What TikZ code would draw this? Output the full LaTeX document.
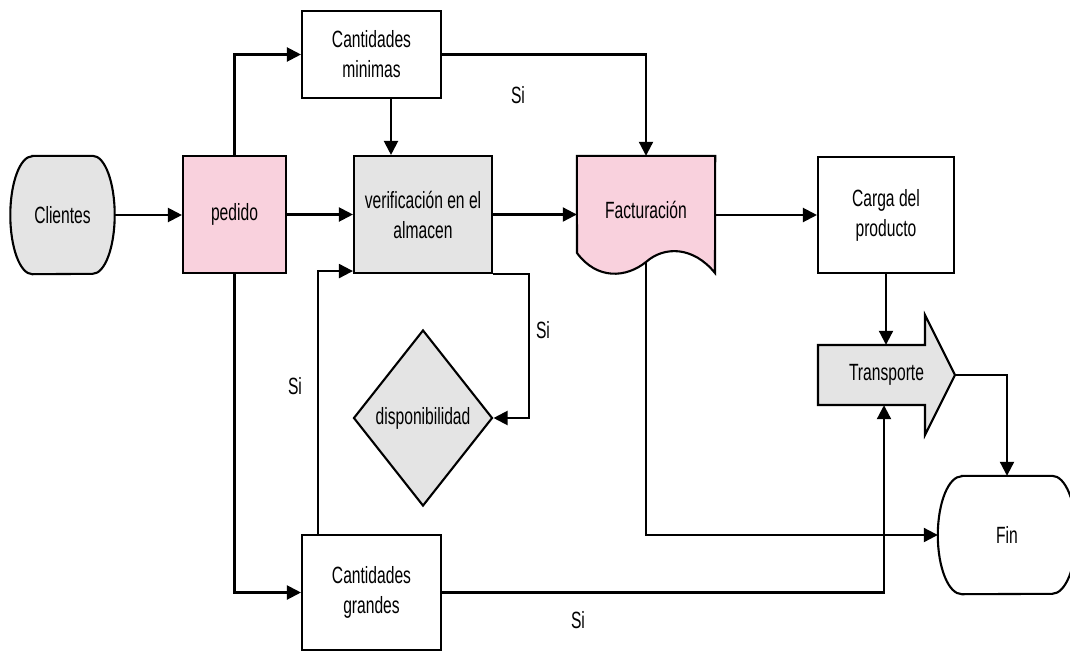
\documentclass[tikz,border=0pt]{standalone}
\usepackage{fontspec}
\setmainfont{Liberation Sans}[FakeStretch=0.665]
\usetikzlibrary{arrows.meta,shapes.geometric,backgrounds,calc}
\definecolor{grayfill}{RGB}{228,228,228}
\definecolor{pinkfill}{RGB}{249,209,221}
\begin{document}
\begin{tikzpicture}[x=1pt,y=-1pt,
  every node/.style={font=\fontsize{23.5}{30}\selectfont, inner sep=0pt, align=center, text=black},
  line/.style={line width=2.1pt},
  arr/.style={line width=2.1pt, -{Triangle[length=14pt,width=14pt]}},
  blk/.style={draw, line width=2.1pt, rectangle},
  ghost/.style={rectangle, draw=none}
]
\useasboundingbox (0,0) rectangle (1070,651);

% nodes
\node[ghost, minimum width=104pt, minimum height=118pt] (cli) at (62.5,215) {Clientes};
\node[blk, fill=pinkfill, minimum width=103pt, minimum height=117pt] (ped) at (234.5,214.5) {pedido};
\node[blk, fill=grayfill, minimum width=138pt, minimum height=117pt] (ver) at (423,214.5) {verificación en el\\almacen};
\node[blk, fill=white, minimum width=139pt, minimum height=87pt] (cmin) at (371.5,54.5) {Cantidades\\minimas};
\node[ghost, minimum width=138pt, minimum height=118pt] (fac) at (646,215) {\raisebox{11pt}{Facturación}};
\node[blk, fill=white, minimum width=136pt, minimum height=116pt] (car) at (886,215) {Carga del\\producto};
\node[ghost, minimum width=137pt, minimum height=60pt] (tra) at (886.5,375) {Transporte};
\node[diamond, draw, line width=2.1pt, fill=grayfill, minimum width=139pt, minimum height=176pt] (dis) at (423,418) {disponibilidad};
\node[ghost, minimum width=138pt, minimum height=118pt] (fin) at (1007,535) {Fin};
\node[blk, fill=white, minimum width=139pt, minimum height=115pt] (cgr) at (371.5,592.5) {Cantidades\\grandes};

% shapes drawn behind the texts
\begin{scope}[on background layer]
\draw[line, fill=grayfill] ([xshift=22pt]cli.north west) -- ([xshift=-22pt]cli.north east)
  arc[start angle=90, end angle=-90, x radius=22pt, y radius=59pt]
  -- ([xshift=22pt]cli.south west)
  arc[start angle=270, end angle=90, x radius=22pt, y radius=59pt] -- cycle;
\draw[line, fill=white] ([xshift=24pt]fin.north west) -- ([xshift=-24pt]fin.north east)
  arc[start angle=90, end angle=-90, x radius=24pt, y radius=59pt]
  -- ([xshift=24pt]fin.south west)
  arc[start angle=270, end angle=90, x radius=24pt, y radius=59pt] -- cycle;
\draw[line, fill=pinkfill] (fac.north west) -- (fac.north east) -- (715,273)
  .. controls (693,246) and (664,246) .. (646,262)
  .. controls (626,278) and (597,280) .. (577,253) -- cycle;
\draw[line, fill=grayfill] (818,345) -- (925,345) -- (925,315) -- (955,375)
  -- (925,435) -- (925,405) -- (818,405) -- cycle;
\end{scope}

% connectors
\draw[arr] (cli.east) -- (cli.east -| ped.west);
\draw[arr] (ped.north) |- (cmin.west);
\draw[arr] (ped.south) |- (cgr.west);
\draw[arr] (ped.east) -- (ver.west);
\coordinate (cminb) at ([xshift=19.5pt]cmin.south);
\draw[arr] (cminb) -- (cminb |- ver.north);
\draw[arr] (cmin.east) -| (fac.north);
\draw[arr] (ver.east) -- (ver.east -| fac.west);
\draw[arr] (fac.east) -- (fac.east -| car.west);
\draw[arr] (car.south) -- (car.south |- tra.north);
\draw[arr] (tra.east) -| (fin.north);
\coordinate (facb) at ([yshift=-47pt]fac.center);
\draw[arr] (facb) |- (fin.west);
\coordinate (trab) at ([xshift=-2.5pt]tra.south);
\draw[arr] (cgr.east) -| (trab);
\coordinate (cgrt) at ([xshift=-53.5pt]cgr.north);
\coordinate (verl) at ([yshift=3pt]ver.south west);
\draw[arr] (cgrt) |- (verl);
\draw[arr] (ver.south east) -- ++(36,0) |- (dis.east);

% labels
\node (s1) at (518,95) {Si};
\node (s2) at (543,330) {Si};
\node (s3) at (295,386) {Si};
\node (s4) at (578,620) {Si};
\end{tikzpicture}
\end{document}
